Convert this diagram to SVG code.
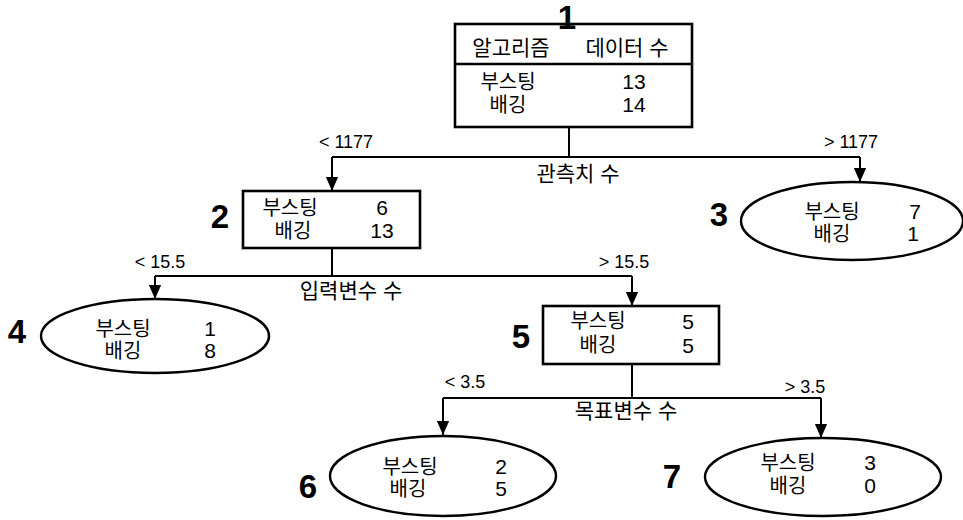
<svg xmlns="http://www.w3.org/2000/svg" width="963" height="520" viewBox="0 0 963 520">
<defs>
<marker id="arr" markerUnits="userSpaceOnUse" markerWidth="14" markerHeight="18" refX="16" refY="7" orient="auto" viewBox="0 0 16 14">
<path d="M0,0 L16,7 L0,14 Z" fill="#000"/>
</marker>
</defs>
<style>
.box{fill:#fff;stroke:#000;stroke-width:2.6}
.ell{fill:#fff;stroke:#000;stroke-width:2.4}
.ln{fill:none;stroke:#000;stroke-width:2}
text{font-family:"Liberation Sans","Noto Sans CJK KR",sans-serif;fill:#000}
.t{font-size:20px;text-anchor:middle}
.h{font-size:21px;text-anchor:middle}
.n{font-size:21px;text-anchor:middle}
.e{font-size:18px;text-anchor:middle}
.c{font-size:21px;text-anchor:middle}
.big{font-size:33px;font-weight:bold;text-anchor:middle}
</style>
<g id="connectors">
<path class="ln" d="M569,127 V157"/>
<path class="ln" d="M332,157 H860"/>
<path class="ln" d="M332,157 V191" marker-end="url(#arr)"/>
<path class="ln" d="M860,157 V182" marker-end="url(#arr)"/>
<path class="ln" d="M332,248 V276"/>
<path class="ln" d="M155,276 H632"/>
<path class="ln" d="M155,276 V299" marker-end="url(#arr)"/>
<path class="ln" d="M632,276 V306" marker-end="url(#arr)"/>
<path class="ln" d="M632,364 V398"/>
<path class="ln" d="M443,398 H821"/>
<path class="ln" d="M443,398 V435" marker-end="url(#arr)"/>
<path class="ln" d="M821,398 V438" marker-end="url(#arr)"/>
<text class="e" x="346" y="148">&lt; 1177</text>
<text class="e" x="851" y="148">&gt; 1177</text>
<text class="c" x="578" y="181">관측치 수</text>
<text class="e" x="160" y="268">&lt; 15.5</text>
<text class="e" x="624" y="268">&gt; 15.5</text>
<text class="c" x="351" y="298">입력변수 수</text>
<text class="e" x="465" y="388">&lt; 3.5</text>
<text class="e" x="805" y="393">&gt; 3.5</text>
<text class="c" x="626" y="418">목표변수 수</text>
</g>
<g id="node1">
<rect class="box" x="455" y="24" width="237" height="103"/>
<line x1="455" y1="64" x2="692" y2="64" stroke="#000" stroke-width="2.4"/>
<text class="big" x="567" y="29">1</text>
<text class="h" x="511" y="55">알고리즘</text>
<text class="h" x="627" y="55">데이터 수</text>
<text class="t" x="508" y="89">부스팅</text>
<text class="n" x="634" y="89">13</text>
<text class="t" x="508" y="112">배깅</text>
<text class="n" x="634" y="112">14</text>
</g>
<g id="node2">
<rect class="box" x="243" y="191" width="177" height="57"/>
<text class="big" x="220" y="228">2</text>
<text class="t" x="290" y="215">부스팅</text>
<text class="n" x="382" y="215">6</text>
<text class="t" x="293" y="238">배깅</text>
<text class="n" x="382" y="238">13</text>
</g>
<g id="node3">
<ellipse class="ell" cx="852" cy="221" rx="111" ry="39"/>
<text class="big" x="719" y="226">3</text>
<text class="t" x="832" y="219">부스팅</text>
<text class="n" x="915" y="219">7</text>
<text class="t" x="832" y="241">배깅</text>
<text class="n" x="913" y="241">1</text>
</g>
<g id="node4">
<ellipse class="ell" cx="155" cy="336" rx="114" ry="37"/>
<text class="big" x="17" y="343">4</text>
<text class="t" x="123" y="336">부스팅</text>
<text class="n" x="210" y="336">1</text>
<text class="t" x="123" y="358">배깅</text>
<text class="n" x="210" y="358">8</text>
</g>
<g id="node5">
<rect class="box" x="543" y="306" width="176" height="58"/>
<text class="big" x="521" y="348">5</text>
<text class="t" x="598" y="328">부스팅</text>
<text class="n" x="688" y="329">5</text>
<text class="t" x="598" y="352">배깅</text>
<text class="n" x="688" y="353">5</text>
</g>
<g id="node6">
<ellipse class="ell" cx="443" cy="476" rx="113" ry="40"/>
<text class="big" x="308" y="498">6</text>
<text class="t" x="410" y="474">부스팅</text>
<text class="n" x="501" y="474">2</text>
<text class="t" x="408" y="496">배깅</text>
<text class="n" x="501" y="496">5</text>
</g>
<g id="node7">
<ellipse class="ell" cx="823" cy="477" rx="118" ry="39"/>
<text class="big" x="672" y="488">7</text>
<text class="t" x="788" y="470">부스팅</text>
<text class="n" x="870" y="470">3</text>
<text class="t" x="788" y="493">배깅</text>
<text class="n" x="870" y="493">0</text>
</g>
</svg>
